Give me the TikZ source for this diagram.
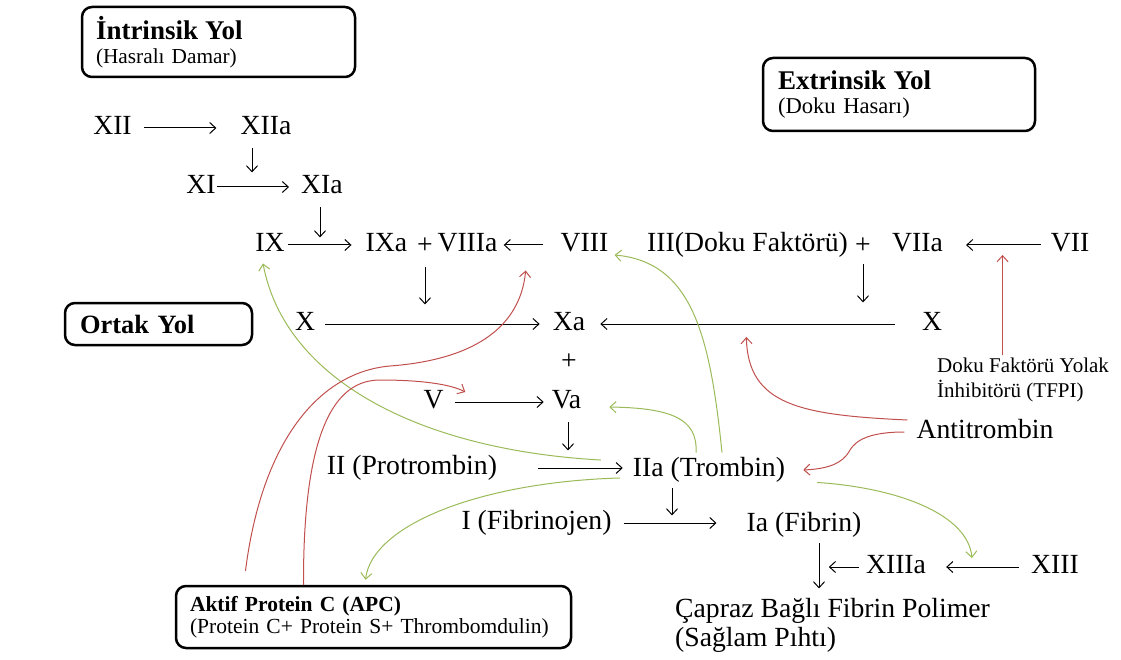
\documentclass[tikz,border=0pt]{standalone}
\usepackage{fontspec}
\setmainfont{Liberation Serif}
\usetikzlibrary{arrows.meta}
\definecolor{grn}{HTML}{9BBB59}
\definecolor{rd}{HTML}{C0504D}
\begin{document}
\begin{tikzpicture}[x=1pt,y=-1pt,
  lbl/.style={font=\fontsize{27.7}{32}\selectfont,inner sep=0pt,text height=19pt,text depth=5.5pt},
  arr/.style={-{Straight Barb[length=6pt,width=11pt]},line width=1pt},
  garr/.style={arr,grn},
  rarr/.style={arr,rd},
  box/.style={draw,rounded corners=10pt,line width=2.5pt,align=left,anchor=center}]
\useasboundingbox (0,0) rectangle (1121,660);

% boxes
\node[box,minimum width=273pt,minimum height=70pt,text width=245pt,inner xsep=14pt,
  font=\fontsize{21.3}{24}\selectfont] (intr) at (218.5,42)
  {{\fontsize{27}{24}\selectfont\bfseries İntrinsik Yol}\\(Hasralı Damar)};
\node[box,minimum width=272pt,minimum height=73pt,text width=242pt,inner xsep=15pt,
  font=\fontsize{22.6}{24}\selectfont] (extr) at (899,94.5)
  {{\fontsize{27}{24}\selectfont\bfseries Extrinsik Yol}\\(Doku Hasarı)};
\node[box,minimum width=187pt,minimum height=42pt,text width=157pt,inner xsep=15pt,
  font=\fontsize{26.4}{28}\selectfont\bfseries] (ortak) at (158.5,324) {Ortak Yol};
\node[box,minimum width=395pt,minimum height=62pt,text width=367pt,inner xsep=14pt,
  font=\fontsize{21.5}{22}\selectfont] (apc) at (373.5,617)
  {\mbox{\bfseries Aktif Protein C (APC)}\\\mbox{(Protein C+ Protein S+ Thrombomdulin)}};

% factor labels
\node[lbl] (xii) at (112.5,128) {XII};
\node[lbl] (xiia) at (266,128) {XIIa};
\node[lbl] (xi) at (201,187) {XI};
\node[lbl] (xia) at (322,187) {XIa};
\node[lbl] (ix) at (270,245) {IX};
\node[lbl] (ixa) at (386.5,245) {IXa};
\node[lbl] (plusA) at (425,247) {+};
\node[lbl] (viiia) at (467.5,245) {VIIIa};
\node[lbl] (viii) at (584.5,245) {VIII};
\node[lbl] (iii) at (747.5,245) {III(Doku Faktörü)};
\node[lbl] (plusB) at (863,247) {+};
\node[lbl] (viia) at (917.5,245) {VIIa};
\node[lbl] (vii) at (1070,245) {VII};
\node[lbl] (xl) at (305,324) {X};
\node[lbl] (xa) at (569,324) {Xa};
\node[lbl] (xr) at (932,324) {X};
\node[lbl] (plusC) at (569,363) {+};
\node[lbl] (v) at (433.5,402) {V};
\node[lbl] (va) at (566.5,402) {Va};
\node[lbl] (ii) at (412,468) {II (Protrombin)};
\node[lbl] (iia) at (709,470) {IIa (Trombin)};
\node[lbl] (i) at (536.5,523) {I (Fibrinojen)};
\node[lbl] (ia) at (804,525) {Ia (Fibrin)};
\node[lbl] (xiiia) at (896,567) {XIIIa};
\node[lbl] (xiii) at (1055,567) {XIII};
\node[lbl] (anti) at (985,432) {Antitrombin};
\node[inner sep=0pt,anchor=north west,align=left,font=\fontsize{21}{25}\selectfont] (tfpi) at (937,358)
  {Doku Faktörü Yolak\\İnhibitörü (TFPI)};
\node[inner sep=0pt,anchor=north west,align=left,font=\fontsize{27.7}{29}\selectfont] (capraz) at (675,598)
  {Çapraz Bağlı Fibrin Polimer\\(Sağlam Pıhtı)};

% black arrows
\draw[arr,shorten <=12pt,shorten >=24pt] (xii.east) -- (xiia.west);
\draw[arr] ([xshift=-14pt,yshift=-8pt]xiia.south) -- ++(0,24);
\draw[arr,shorten <=1pt,shorten >=12pt] (xi.east) -- (xia.west);
\draw[arr] ([xshift=-2pt,yshift=-8pt]xia.south) -- ++(0,30);
\draw[arr,shorten <=3pt,shorten >=14pt] (ix.east) -- (ixa.west);
\draw[arr,shorten <=17pt,shorten >=6pt] (viii.west) -- (viiia.east);
\draw[arr] ([yshift=-8pt]plusA.south) -- ++(0,37);
\draw[arr,shorten <=10pt,shorten >=13pt] (xl.east) -- (xa.west);
\draw[arr,shorten <=27pt,shorten >=15pt] (xr.west) -- (xa.east);
\draw[arr] ([yshift=-5pt]plusB.south) -- ++(0,38);
\draw[arr,shorten <=10pt,shorten >=23pt] (vii.west) -- (viia.east);
\draw[arr,shorten <=11pt,shorten >=8pt] (v.east) -- (va.west);
\draw[arr] ([xshift=1.5pt,yshift=-8pt]va.south) -- ++(0,28);
\draw[arr,shorten <=41pt,shorten >=10pt] (ii.east) -- (ii.east -| iia.west);
\draw[arr] ([xshift=-37pt,yshift=-6pt]iia.south) -- ++(0,27);
\draw[arr,shorten <=12pt,shorten >=30pt] (i.east) -- (i.east -| ia.west);
\draw[arr] ([xshift=15pt,yshift=-6pt]ia.south) -- ++(0,45);
\draw[arr] ([xshift=-7pt]xiiia.west) -- ++(-30,0);
\draw[arr,shorten <=12pt,shorten >=20pt] (xiii.west) -- (xiiia.east);

% TFPI inhibition
\draw[rarr] ([xshift=-20.5pt,yshift=3pt]tfpi.north) -- ++(0,-100);

% green (thrombin feedback)
\draw[garr] ([xshift=-32pt,yshift=10pt]iia.west) .. controls (420,450) and (285,380) .. ([xshift=-7pt,yshift=-6pt]ix.south);
\draw[garr] ([xshift=13pt,yshift=5pt]iia.north) .. controls (710,335) and (692,262) .. ([xshift=6pt,yshift=-10pt]viii.east);
\draw[garr] ([xshift=-13pt,yshift=5pt]iia.north) .. controls (698,418) and (670,408) .. ([xshift=28pt,yshift=-5pt]va.east);
\draw[garr] ([xshift=-13pt,yshift=-8pt]iia.west) .. controls (480,482) and (372,525) .. ([xshift=-8pt,yshift=5pt]apc.north);
\draw[garr] ([xshift=32pt]iia.south east) .. controls (900,488) and (968,515) .. ([xshift=-59pt,yshift=9pt]xiii.west);

% red (inhibition)
\draw[rarr] ([xshift=-128pt,yshift=14pt]apc.north) .. controls (262,440) and (320,372) .. (390,366)
  .. controls (470,360) and (520,330) .. ([xshift=28pt,yshift=-13pt]viiia.south east);
\draw[rarr] ([xshift=-70pt]apc.north) .. controls (303,430) and (335,380) .. (380,380)
  .. controls (420,380) and (450,384) .. ([xshift=42pt,yshift=10pt]v.west);
\draw[rarr] ([xshift=-9pt,yshift=12pt]anti.west) .. controls (800,415) and (748,405) .. ([xshift=161pt,yshift=-13pt]xa.east);
\draw[rarr] ([xshift=-12pt]anti.west) .. controls (870,432) and (856,440) .. (850,450)
  .. controls (842,465) and (825,469) .. ([xshift=18pt]iia.east);
\end{tikzpicture}
\end{document}
